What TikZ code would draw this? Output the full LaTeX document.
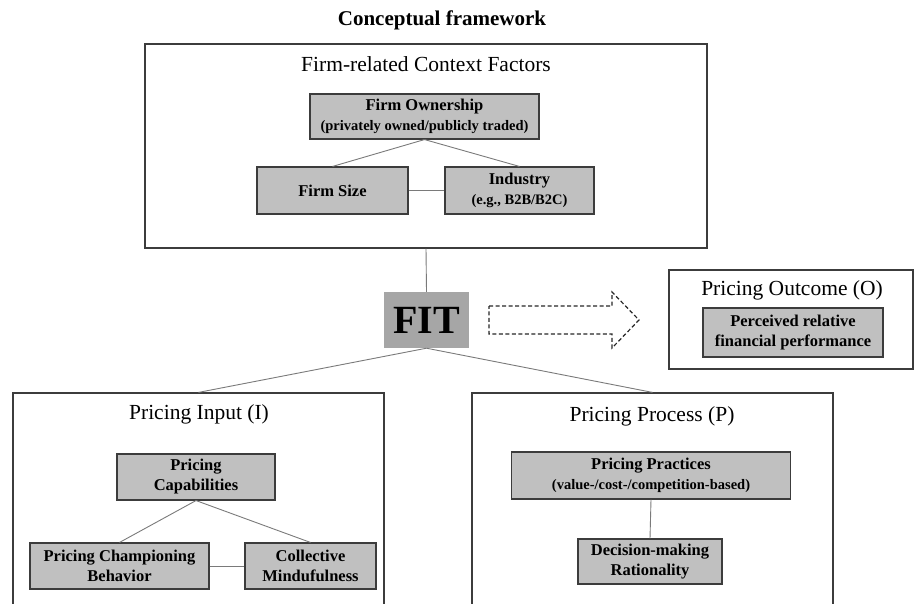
\documentclass[tikz,border=0pt]{standalone}
\usepackage{fontspec}
\setmainfont{Liberation Serif}
\usepackage{tikz}
\usetikzlibrary{positioning}
\definecolor{boxgray}{HTML}{C0C0C0}
\definecolor{fitgray}{HTML}{A6A6A6}
\definecolor{linegray}{HTML}{7A7A7A}
\definecolor{edgegray}{HTML}{3C3C3C}
\tikzstyle{groupbox}=[draw=edgegray,%
                        line width=1.2pt,%
                        rectangle,%
                        inner sep=0pt]
\tikzstyle{grouptitle}=[inner sep=0pt,anchor=base,font=\fontsize{21.5}{24}\selectfont]
\tikzstyle{factor}=[draw=edgegray,fill=boxgray,line width=1.1pt,rectangle,align=center,%
                      inner sep=0pt,font=\fontsize{16.5}{20}\selectfont\bfseries]
\tikzstyle{fitnode}=[fill=fitgray,rectangle,inner sep=0pt,minimum width=85pt,minimum height=56pt,%
                       font=\fontsize{40}{44}\selectfont\bfseries]
\tikzstyle{link}=[draw=linegray,line width=0.9pt]
\newcommand{\subline}[1]{{\fontsize{14.5}{19}\selectfont #1}}

\begin{document}
\begin{tikzpicture}[x=1pt,y=-1pt]
            \clip (0,0) rectangle (915,604);
            \node[inner sep=0pt,anchor=base,font=\fontsize{21}{24}\selectfont\bfseries] (title) at (442,26) {Conceptual framework};
            % context factors
            \node[groupbox,minimum width=562pt,minimum height=204pt] (ctx) at (426,146) {};
            \node[grouptitle] (ctxtitle) at (426,72) {Firm-related Context Factors};
            \node[factor,minimum width=229pt,minimum height=45pt] (own) at (424.5,116.5) {Firm Ownership\\ \subline{(privately owned/publicly traded)}};
            \node[factor,minimum width=151pt,minimum height=47pt] (size) at (332.5,190.5) {Firm Size};
            \node[factor,minimum width=149pt,minimum height=47pt] (ind) at (519.5,190.5) {Industry\\ \subline{(e.g., B2B/B2C)}};
            % fit and outcome
            \node[fitnode] (fit) at (426.5,320) {FIT};
            \node[groupbox,minimum width=244pt,minimum height=99pt] (out) at (791,319.5) {};
            \node[grouptitle] (outtitle) at (792,295) {Pricing Outcome (O)};
            \node[factor,minimum width=180pt,minimum height=49pt] (perf) at (793,332.5) {Perceived relative\\ financial performance};
            \draw[line width=1.2pt,black!85,dash pattern=on 4pt off 2.5pt] (489,306) -- (612,306) -- (612,292) -- (639,320)
                  -- (612,348) -- (612,334) -- (489,334) -- cycle;
            % input
            \node[groupbox,minimum width=371pt,minimum height=227pt] (inp) at (198.5,506.5) {};
            \node[grouptitle] (inptitle) at (199,419) {Pricing Input (I)};
            \node[factor,minimum width=158pt,minimum height=46pt] (cap) at (196,477) {Pricing\\ Capabilities};
            \node[factor,minimum width=179pt,minimum height=46pt] (champ) at (119.5,566) {Pricing Championing\\ Behavior};
            \node[factor,minimum width=131pt,minimum height=46pt] (mind) at (310.5,566) {Collective\\ Mindufulness};
            % process
            \node[groupbox,minimum width=361pt,minimum height=227pt] (proc) at (652.5,506.5) {};
            \node[grouptitle] (proctitle) at (652,421) {Pricing Process (P)};
            \node[factor,minimum width=279pt,minimum height=47pt] (prac) at (651,475.5) {Pricing Practices\\ \subline{(value-/cost-/competition-based)}};
            \node[factor,minimum width=144pt,minimum height=45pt] (rat) at (650,561.5) {Decision-making\\ Rationality};
            % links
            \draw[link] (own.south) -- (size.north);
            \draw[link] (own.south) -- (ind.north);
            \draw[link] (size.east) -- (ind.west);
            \draw[link] (ctx.south) -- (fit.north);
            \draw[link] (fit.south) -- (inp.north);
            \draw[link] (fit.south) -- (proc.north);
            \draw[link] (cap.south) -- (champ.north);
            \draw[link] (cap.south) -- (mind.north);
            \draw[link] (champ.east) -- (mind.west);
            \draw[link] (prac.south) -- (rat.north);
\end{tikzpicture}
\end{document}
